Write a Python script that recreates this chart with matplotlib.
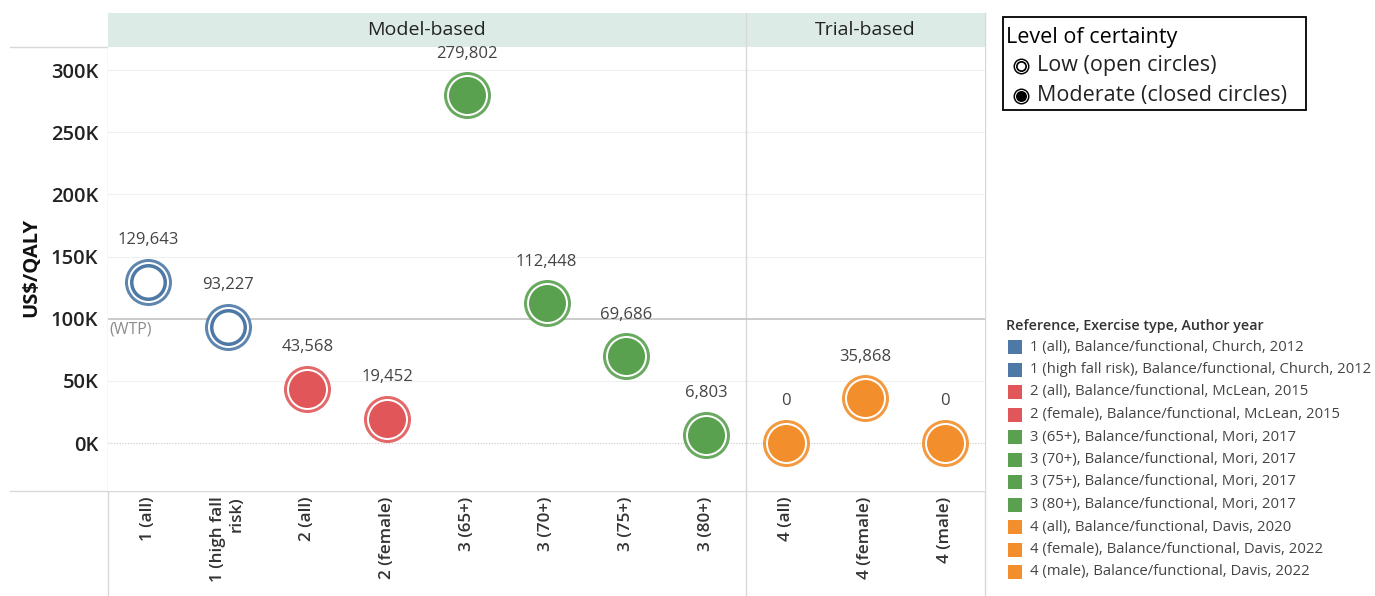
import matplotlib
matplotlib.use('Agg')
import matplotlib.pyplot as plt
from matplotlib.patches import Rectangle
import numpy as np

plt.rcParams['font.family'] = ['Open Sans', 'DejaVu Sans']

# data
studies = ['1 (all)', '1 (high fall\nrisk)', '2 (all)', '2 (female)',
           '3 (65+)', '3 (70+)', '3 (75+)', '3 (80+)',
           '4 (all)', '4 (female)', '4 (male)']
icer = [129643, 93227, 43568, 19452, 279802, 112448, 69686, 6803, 0, 35868, 0]
ref_group = [1, 1, 2, 2, 3, 3, 3, 3, 4, 4, 4]
certainty = ['low', 'low', 'mod', 'mod', 'mod', 'mod', 'mod', 'mod', 'mod', 'mod', 'mod']
panels = ['Model-based', 'Trial-based']
panel_sizes = [8, 3]
legend_labels = ['1 (all), Balance/functional, Church, 2012',
                 '1 (high fall risk), Balance/functional, Church, 2012',
                 '2 (all), Balance/functional, McLean, 2015',
                 '2 (female), Balance/functional, McLean, 2015',
                 '3 (65+), Balance/functional, Mori, 2017',
                 '3 (70+), Balance/functional, Mori, 2017',
                 '3 (75+), Balance/functional, Mori, 2017',
                 '3 (80+), Balance/functional, Mori, 2017',
                 '4 (all), Balance/functional, Davis, 2020',
                 '4 (female), Balance/functional, Davis, 2022',
                 '4 (male), Balance/functional, Davis, 2022']
wtp = 100000

colors = {1: '#4e79a7', 2: '#e15759', 3: '#59a14f', 4: '#f28e2b'}
W, H = 1375, 596
fig = plt.figure(figsize=(W / 100, H / 100), dpi=100)

L, R, T, B = 108, 985, 47, 491
ax = fig.add_axes([L / W, 1 - B / H, (R - L) / W, (B - T) / H])
x = np.arange(len(studies))
ax.set_xlim(-0.5, len(studies) - 0.5)
ax.set_ylim(-38600, 318600)

for v in range(0, 300001, 50000):
    if v == 0:
        ax.axhline(v, color='#c8c8c8', lw=0.8, ls=(0, (1, 1.5)), zorder=0)
    else:
        ax.axhline(v, color='#f0f0f0', lw=0.8, zorder=0)
ax.axhline(wtp, color='#c4c4c4', lw=1.2, zorder=1)
ax.text(-0.48, wtp - 2500, '(WTP)', color='#8c8c8c', fontsize=11.5, va='top', ha='left')

# separator between model and trial panels
ax.axvline(panel_sizes[0] - 0.5, color='#d8d8d8', lw=1, zorder=0)

s_out, s_gap, s_in, s_hole = 47, 41, 37, 30   # diameters in px
to_s = lambda d: (d * 0.72) ** 2
for i in range(len(studies)):
    c = colors[ref_group[i]]
    ax.scatter(x[i], icer[i], s=to_s(s_out), color=c, lw=0, zorder=3, alpha=0.9)
    ax.scatter(x[i], icer[i], s=to_s(s_gap), color='white', lw=0, zorder=4)
    ax.scatter(x[i], icer[i], s=to_s(s_in), color=c, lw=0, zorder=5)
    if certainty[i] == 'low':
        ax.scatter(x[i], icer[i], s=to_s(s_hole), color='white', lw=0, zorder=6)
    ax.annotate(f'{icer[i]:,}', (x[i], icer[i]), xytext=(0, 30), textcoords='offset points',
                ha='center', va='center', fontsize=12, color='#444444')

ax.set_yticks(range(0, 300001, 50000))
ax.set_yticklabels([f'{v // 1000}K' for v in range(0, 300001, 50000)],
                   fontsize=14.5, fontweight='semibold', color='#222222')
ax.set_xticks(x)
ax.set_xticklabels(studies, rotation=90, fontsize=12.3, fontweight='semibold',
                   color='#333333', multialignment='right')
ax.tick_params(axis='y', length=0, pad=7)
ax.tick_params(axis='x', length=0, pad=4)
for sp in ax.spines.values():
    sp.set_visible(False)

# overlay in pixel coordinates for frame lines, headers and legends
ov = fig.add_axes([0, 0, 1, 1], zorder=-1)
ov.set_xlim(0, W)
ov.set_ylim(H, 0)
ov.axis('off')
ov2 = fig.add_axes([0, 0, 1, 1], zorder=5)
ov2.set_xlim(0, W)
ov2.set_ylim(H, 0)
ov2.axis('off')
ov2.patch.set_alpha(0)

col_w = (R - L) / len(studies)
x0 = L
for name, n in zip(panels, panel_sizes):
    ov.add_patch(Rectangle((x0, 13), n * col_w, T - 13, color='#dcebe6', lw=0))
    ov.text(x0 + n * col_w / 2, 30, name, ha='center', va='center', fontsize=14, color='#222222')
    x0 += n * col_w
ov.plot([10, R], [B, B], color='#d8d8d8', lw=1)
ov.plot([10, L], [T, T], color='#d8d8d8', lw=1)
ov.plot([L, L], [T, H], color='#d8d8d8', lw=1)
ov.plot([L + panel_sizes[0] * col_w] * 2, [13, H], color='#d8d8d8', lw=1)
ov.plot([R, R], [13, H], color='#d8d8d8', lw=1)
ov.text(31, 267, 'US$/QALY', rotation=90, ha='center', va='center', fontsize=14.5,
        fontweight='bold', color='#111111')

# certainty legend box
ov2.add_patch(Rectangle((1003, 17), 303, 93, fill=False, ec='black', lw=1.3))
ov2.text(1006, 37, 'Level of certainty', fontsize=15.5, va='center', color='black')
for yy, lab, closed in [(66, 'Low (open circles)', False), (96, 'Moderate (closed circles)', True)]:
    ov2.scatter(1021, yy, s=to_s(16), color='black', lw=0)
    ov2.scatter(1021, yy, s=to_s(13), color='white', lw=0)
    ov2.scatter(1021, yy, s=to_s(11), color='black', lw=0)
    if not closed:
        ov2.scatter(1021, yy, s=to_s(7.5), color='white', lw=0)
    ov2.text(1037, yy, lab, fontsize=15.5, va='center', color='#222222')

# colour legend
ov2.text(1006, 326, 'Reference, Exercise type, Author year', fontsize=10.3, fontweight='semibold',
         va='center', color='#333333')
for i, lab in enumerate(legend_labels):
    yy = 347 + i * 22.5
    ov2.add_patch(Rectangle((1008, yy - 7), 14, 14, color=colors[ref_group[i]], lw=0))
    ov2.text(1030, yy, lab, fontsize=10.75, va='center', color='#444444')

fig.savefig('out.png', dpi=100)
